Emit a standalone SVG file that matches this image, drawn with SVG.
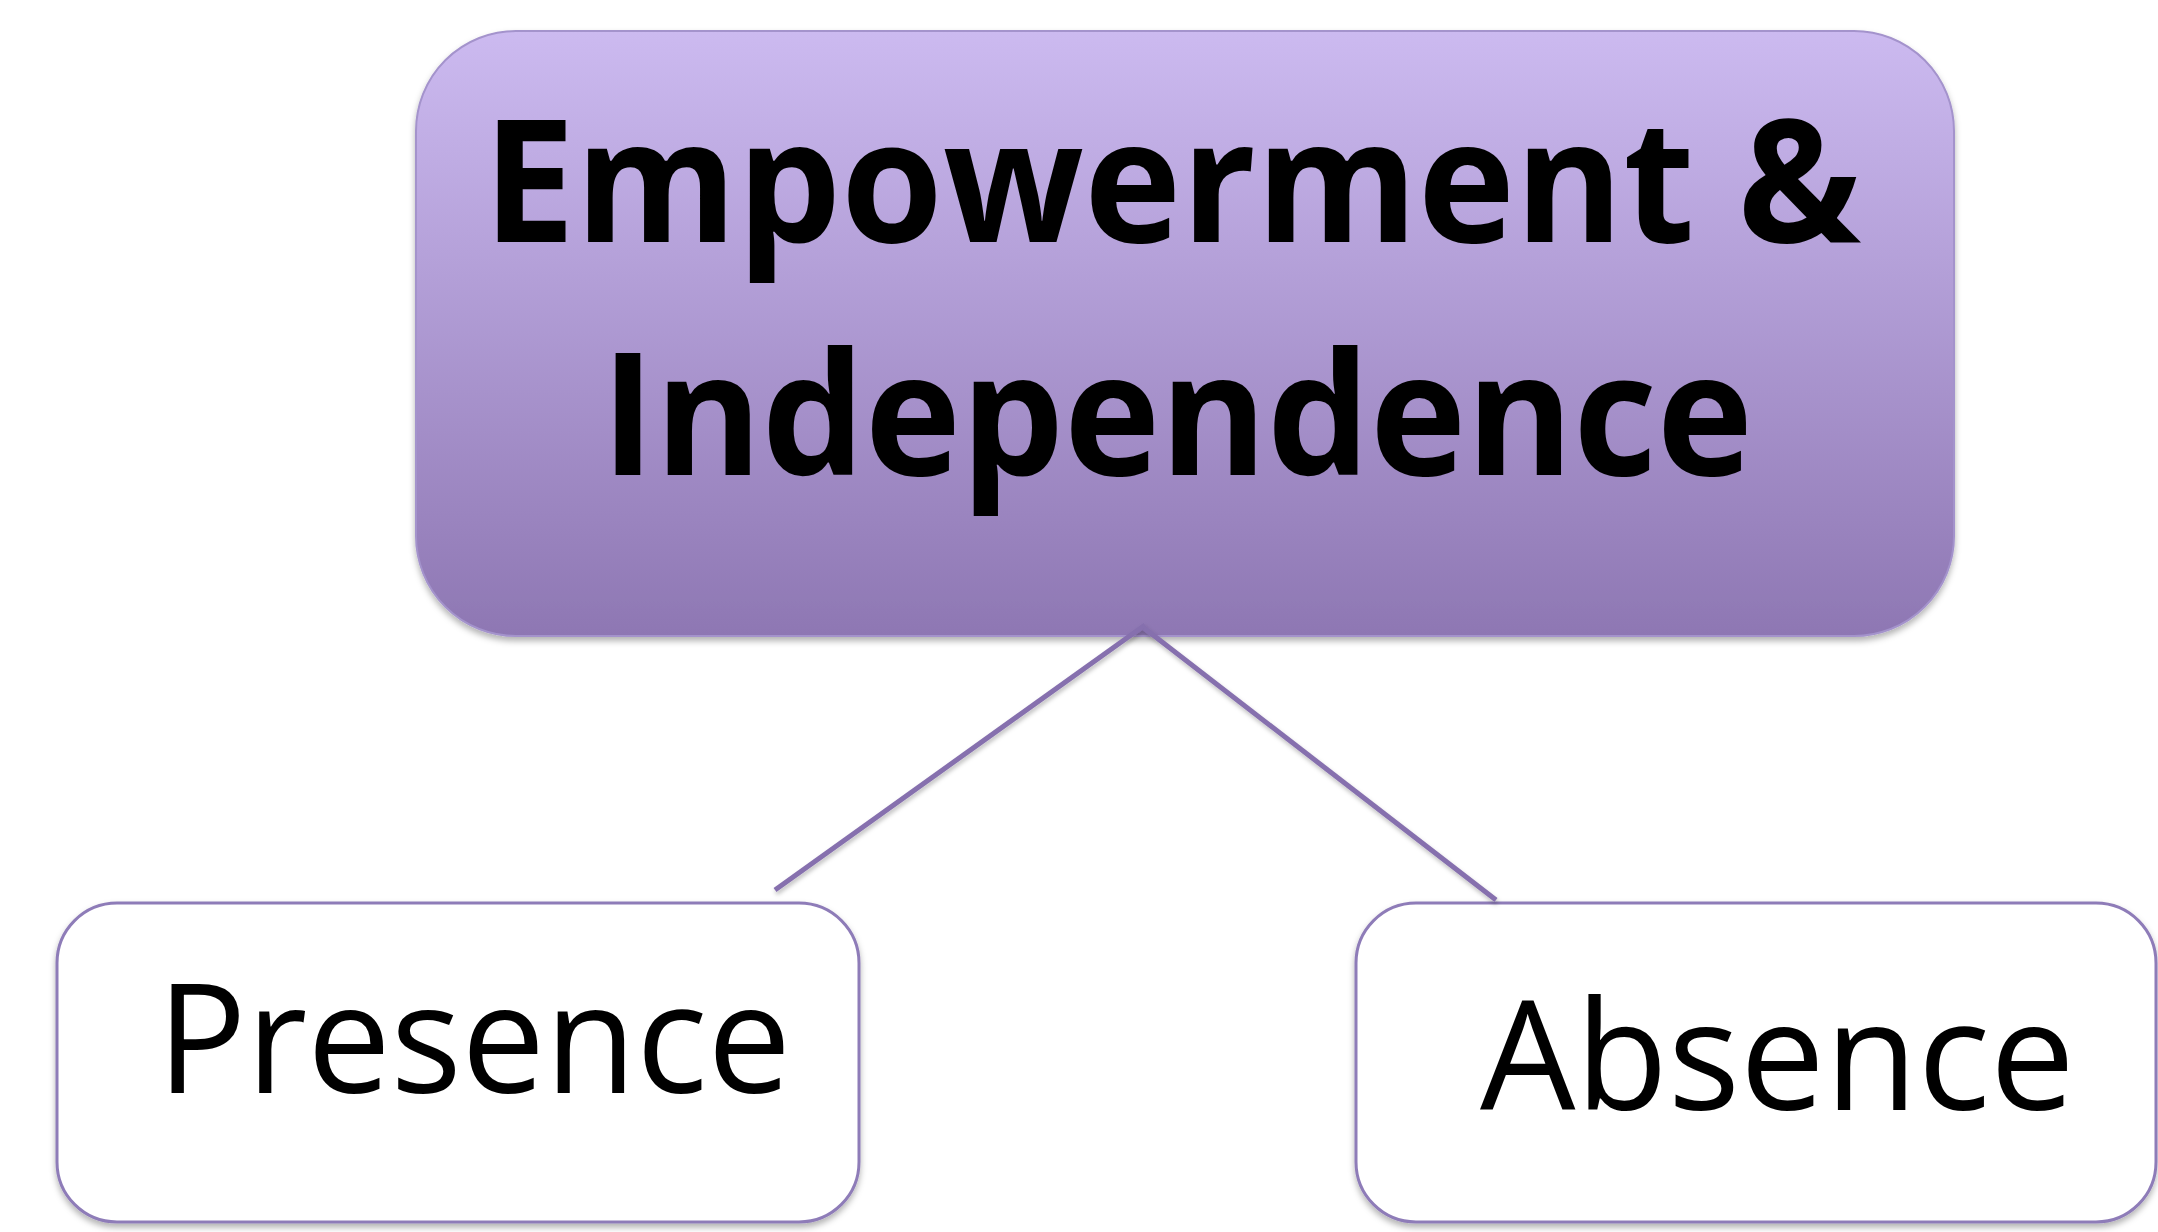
<svg xmlns="http://www.w3.org/2000/svg" width="2158" height="1232" viewBox="0 0 2158 1232">
  <defs>
    <linearGradient id="topGrad" x1="0" y1="0" x2="0" y2="1">
      <stop offset="0" stop-color="#CCBAF0"/>
      <stop offset="1" stop-color="#8E77B3"/>
    </linearGradient>
    <filter id="shadow" x="-5%" y="-5%" width="110%" height="115%">
      <feDropShadow dx="0" dy="4" stdDeviation="3" flood-color="#000000" flood-opacity="0.3"/>
    </filter>
    <filter id="lineShadow" x="-5%" y="-5%" width="110%" height="115%">
      <feDropShadow dx="1" dy="3" stdDeviation="2" flood-color="#000000" flood-opacity="0.25"/>
    </filter>
  </defs>
  <style>
    .box { stroke: #8E7CB8; stroke-width: 3; }
    .title { font-family: "Open Sans", "Noto Sans", sans-serif; font-weight: bold; font-size: 171px; fill: #000000; }
    .label { font-family: "Open Sans", "Noto Sans", sans-serif; font-size: 152px; fill: #000000; }
    .conn { stroke: #8670AE; stroke-width: 5; fill: none; stroke-linecap: butt; }
  </style>
  <rect width="2158" height="1232" fill="#FFFFFF"/>

  <g id="node-empowerment">
    <rect x="416" y="31" width="1538" height="605" rx="100" ry="100" fill="url(#topGrad)" stroke="#A493CC" stroke-width="2" filter="url(#shadow)"/>
    <text class="title" x="1172" y="242" text-anchor="middle" textLength="1378" lengthAdjust="spacingAndGlyphs">Empowerment &amp;</text>
    <text class="title" x="1177" y="475" text-anchor="middle" textLength="1152" lengthAdjust="spacingAndGlyphs">Independence</text>
  </g>

  <g id="node-presence">
    <rect x="57" y="903" width="802" height="319" rx="60" ry="60" fill="#FFFFFF" class="box" filter="url(#shadow)"/>
    <text class="label" x="157" y="1093" textLength="634" lengthAdjust="spacingAndGlyphs">Presence</text>
  </g>

  <g id="node-absence">
    <rect x="1356" y="903" width="800" height="319" rx="60" ry="60" fill="#FFFFFF" class="box" filter="url(#shadow)"/>
    <text class="label" x="1480" y="1110" textLength="595" lengthAdjust="spacingAndGlyphs">Absence</text>
  </g>

  <g id="connectors" filter="url(#lineShadow)">
    <line class="conn" x1="1145" y1="625" x2="775" y2="890"/>
    <line class="conn" x1="1144" y1="628" x2="1496" y2="900"/>
  </g>
</svg>
